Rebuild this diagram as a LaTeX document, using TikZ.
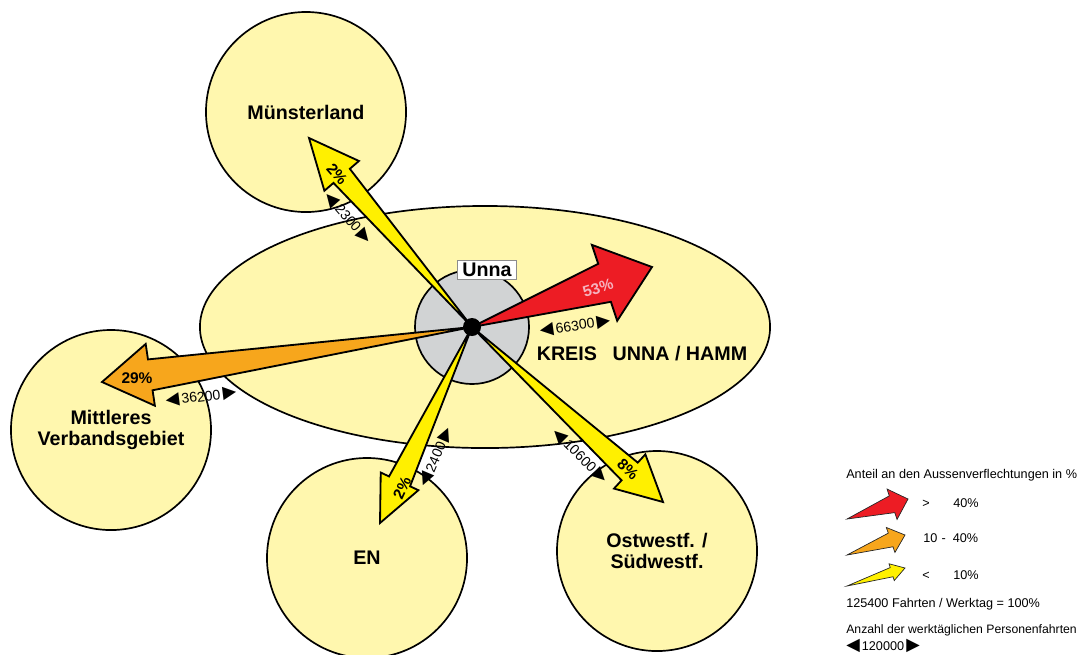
\documentclass[tikz,border=0pt]{standalone}
\usepackage{fontspec}
\setmainfont{Liberation Sans}
\newfontfamily\symfont{DejaVu Sans}
\usetikzlibrary{calc, shapes.geometric}
\definecolor{regbg}{RGB}{255,247,174}
\definecolor{hubgray}{RGB}{209,211,212}
\definecolor{flowred}{RGB}{237,28,36}
\definecolor{flowor}{RGB}{247,166,28}
\definecolor{flowyel}{RGB}{255,240,0}
\definecolor{pinktxt}{RGB}{246,178,190}

\newcommand{\triL}{{\symfont\fontsize{12.5}{12}\selectfont ◀}}
\newcommand{\triR}{{\symfont\fontsize{12.5}{12}\selectfont ▶}}

% wedge arrow: style, start, tip, half shaft, half head, head length
\newcommand{\flowarrow}[6]{%
  \coordinate (hb) at ($(#3)!#6!(#2)$);
  \filldraw[#1] (#2) -- ($(hb)!#4!90:(#3)$) -- ($(hb)!#5!90:(#3)$)
    -- (#3) -- ($(hb)!#5!-90:(#3)$) -- ($(hb)!#4!-90:(#3)$) -- cycle;}

\begin{document}
\begin{tikzpicture}[x=0.025cm, y=-0.025cm,
    region/.style={circle, draw, fill=regbg, line width=1.2pt, minimum size=5cm,
                   inner sep=0pt, align=center,
                   font=\fontsize{14}{14.5}\selectfont\bfseries},
    flow/.style={fill=#1, draw=black, line width=1.3pt, line join=miter},
    legflow/.style={fill=#1, draw=black!85, line width=0.5pt},
    pct/.style={font=\fontsize{11}{11}\selectfont\bfseries, inner sep=0pt},
    count/.style={font=\fontsize{10}{10}\selectfont, inner sep=0pt},
    legtext/.style={font=\fontsize{9}{9}\selectfont, inner sep=0pt}]

\useasboundingbox (0,0) rectangle (1082,654);

% regions
\node[ellipse, draw, fill=regbg, line width=1.2pt, minimum width=14.25cm,
      minimum height=6.05cm, inner sep=0pt] (kreis) at (485,327) {};
\node[region] (mland) at (306,112) {Münsterland};
\node[region] (mvg) at (111,430) {Mittleres\\Verbandsgebiet};
\node[region] (en) at (367,558) {EN};
\node[region] (owsw) at (657,551) {Ostwestf. /\\Südwestf.};
\node[font=\fontsize{14}{14}\selectfont\bfseries] (kreislbl) at (642,354)
    {KREIS\hspace{0.8em}UNNA / HAMM};

% Unna hub
\node[circle, draw, fill=hubgray, line width=1.2pt, minimum size=2.85cm]
    (unna) at (472,327) {};

% arrow tips
\coordinate (tipred) at (652,267);
\coordinate (tipor) at (102,382);
\coordinate (tipml) at (309,138);
\coordinate (tipen) at (380,523);
\coordinate (tipow) at (663,502);

% flows
\flowarrow{flow=flowred}{unna.center}{tipred}{0.5cm}{1cm}{1.25cm}
\flowarrow{flow=flowor}{unna.center}{tipor}{0.39cm}{0.78cm}{1.22cm}
\flowarrow{flow=flowyel}{unna.center}{tipml}{0.27cm}{0.57cm}{1.25cm}
\flowarrow{flow=flowyel}{unna.center}{tipen}{0.29cm}{0.52cm}{1.15cm}
\flowarrow{flow=flowyel}{unna.center}{tipow}{0.3cm}{0.58cm}{1.13cm}

\node[circle, fill=black, minimum size=0.45cm, inner sep=0pt] (hub) at (unna) {};

\node[draw=black!45, fill=white, inner xsep=3.5pt, inner ysep=2pt,
      font=\fontsize{14}{14}\selectfont\bfseries] (unnalbl) at (487,270) {Unna};

% shares
\node[pct, rotate=-49] (pml) at (337,174) {2\%};
\node[pct, text=pinktxt, rotate=18] (pred) at (598,288) {53\%};
\node[pct] (por) at (137,378) {29\%};
\node[pct, rotate=65] (pen) at (402,488) {2\%};
\node[pct, rotate=-43] (pow) at (628,469) {8\%};

% trips per day
\node[count, rotate=-49] (cml) at (348,218) {\triL\,2300\,\triR};
\node[count, rotate=8] (cred) at (575,326) {\triL\,66300\,\triR};
\node[count, rotate=7] (cor) at (201,397) {\triL\,36200\,\triR};
\node[count, rotate=67] (cen) at (436,457) {\triL\,2400\,\triR};
\node[count, rotate=-45] (cow) at (580,456) {\triL\,10600\,\triR};

% legend
\node[legtext, anchor=west] (legtitle) at (846,475)
    {Anteil an den Aussenverflechtungen in \%};
\coordinate (lr0) at (847,519);
\coordinate (lr1) at (908,499);
\coordinate (lo0) at (847,555);
\coordinate (lo1) at (905,535);
\coordinate (ly0) at (847,586);
\coordinate (ly1) at (905,568);
\flowarrow{legflow=flowred}{lr0}{lr1}{0.22cm}{0.4cm}{0.42cm}
\flowarrow{legflow=flowor}{lo0}{lo1}{0.18cm}{0.33cm}{0.38cm}
\flowarrow{legflow=flowyel}{ly0}{ly1}{0.12cm}{0.22cm}{0.35cm}
\node[legtext, anchor=base] (gt) at (926,507) {>};
\node[legtext, anchor=base] (gt40) at (966,507) {40\%};
\node[legtext, anchor=base west] (mid) at (923,542)
    {10\hspace{3pt}-\hspace{5pt}40\%};
\node[legtext, anchor=base] (lt) at (926,579) {<};
\node[legtext, anchor=base] (lt10) at (966,579) {10\%};
\node[legtext, anchor=west] (total) at (846,604)
    {125400 Fahrten / Werktag = 100\%};
\node[legtext, anchor=west, font=\fontsize{8.7}{9}\selectfont] (anzahl) at (846,630)
    {Anzahl der werktäglichen Personenfahrten};
\node[legtext, anchor=west] (scale) at (846,646) {\triL\,120000\,\triR};

\end{tikzpicture}
\end{document}
